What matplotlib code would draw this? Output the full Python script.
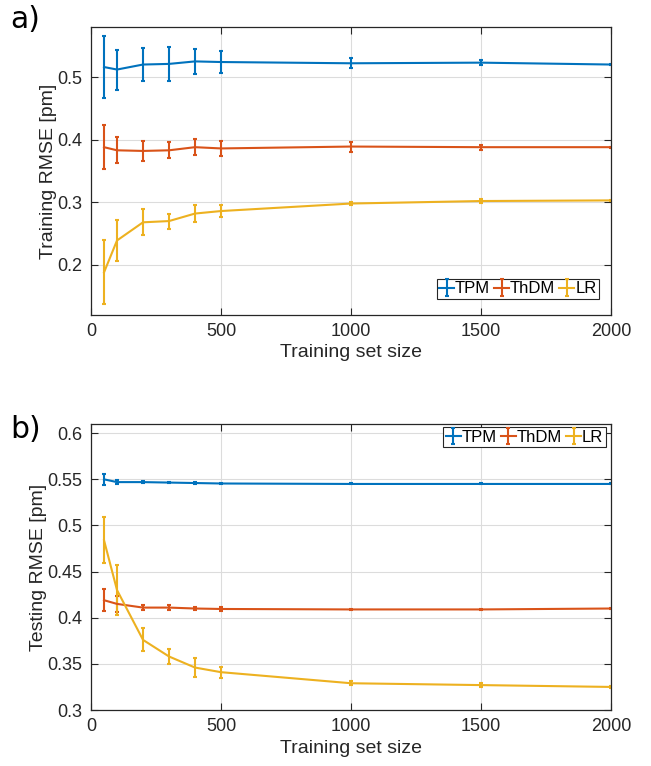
import matplotlib.pyplot as plt
from matplotlib.ticker import MultipleLocator, FuncFormatter

plt.rcParams['font.family'] = ['Liberation Sans', 'DejaVu Sans']

sizes = [50, 100, 200, 300, 400, 500, 1000, 1500, 2000]
names = ['TPM', 'ThDM', 'LR']
colors = ['#0072BD', '#D95319', '#EDB120']

# training RMSE (mean, std) per model
train_mean = {
    'TPM':  [0.516, 0.512, 0.520, 0.521, 0.525, 0.524, 0.522, 0.523, 0.520],
    'ThDM': [0.388, 0.383, 0.382, 0.383, 0.388, 0.386, 0.389, 0.388, 0.388],
    'LR':   [0.188, 0.239, 0.268, 0.270, 0.282, 0.286, 0.298, 0.302, 0.303],
}
train_err = {
    'TPM':  [0.049, 0.032, 0.027, 0.027, 0.020, 0.018, 0.008, 0.004, 0.001],
    'ThDM': [0.035, 0.021, 0.016, 0.013, 0.013, 0.012, 0.008, 0.004, 0.001],
    'LR':   [0.051, 0.032, 0.021, 0.012, 0.013, 0.009, 0.003, 0.003, 0.001],
}

# testing RMSE (mean, std) per model
test_mean = {
    'TPM':  [0.550, 0.547, 0.547, 0.5465, 0.546, 0.5455, 0.545, 0.545, 0.545],
    'ThDM': [0.419, 0.415, 0.411, 0.411, 0.410, 0.4095, 0.409, 0.409, 0.410],
    'LR':   [0.484, 0.430, 0.376, 0.358, 0.346, 0.341, 0.329, 0.327, 0.325],
}
test_err = {
    'TPM':  [0.006, 0.002, 0.001, 0.001, 0.001, 0.0005, 0.0005, 0.0005, 0.0005],
    'ThDM': [0.012, 0.009, 0.003, 0.003, 0.002, 0.002, 0.001, 0.001, 0.0005],
    'LR':   [0.025, 0.027, 0.0125, 0.008, 0.010, 0.006, 0.002, 0.002, 0.001],
}

fig = plt.figure(figsize=(6.51, 7.66), dpi=100)
ax1 = fig.add_axes([0.1398, 0.5888, 0.7988, 0.376])
ax2 = fig.add_axes([0.1398, 0.0731, 0.7988, 0.3734])


def draw(ax, mean, err, ylabel):
    for name, c in zip(names, colors):
        ax.errorbar(sizes, mean[name], yerr=err[name], color=c, lw=1.5,
                    elinewidth=1.5, capsize=1.5, capthick=1.5, label=name)
    ax.set_xlim(0, 2000)
    ax.xaxis.set_major_locator(MultipleLocator(500))
    ax.yaxis.set_major_formatter(FuncFormatter(lambda v, p: '%g' % round(v, 3)))
    ax.grid(True, color='#dcdcdc', lw=0.8)
    ax.set_axisbelow(True)
    ax.tick_params(direction='in', top=True, right=True, labelsize=13,
                   colors='#262626', length=5, width=0.8, pad=6)
    for s in ax.spines.values():
        s.set_color('#262626')
        s.set_linewidth(0.9)
    ax.set_xlabel('Training set size', fontsize=14, color='#262626', labelpad=3)
    ax.set_ylabel(ylabel, fontsize=14, color='#262626', labelpad=0.5)


draw(ax1, train_mean, train_err, 'Training RMSE [pm]')
ax1.set_ylim(0.12, 0.58)
ax1.yaxis.set_major_locator(MultipleLocator(0.1))

draw(ax2, test_mean, test_err, 'Testing RMSE [pm]')
ax2.set_ylim(0.3, 0.61)
ax2.yaxis.set_major_locator(MultipleLocator(0.05))

leg_kw = dict(ncol=3, fontsize=12, handlelength=0.9, handletextpad=0.05,
              columnspacing=0.25, borderpad=0.15, borderaxespad=0,
              fancybox=False, framealpha=1, edgecolor='#262626')
leg1 = ax1.legend(loc='lower right', bbox_to_anchor=(0.977, 0.056), **leg_kw)
leg2 = ax2.legend(loc='upper right', bbox_to_anchor=(0.99, 0.988), **leg_kw)
for leg in (leg1, leg2):
    leg.get_frame().set_linewidth(0.8)

fig.text(0.016, 0.994, 'a)', fontsize=21.5, family='DejaVu Sans', va='top')
fig.text(0.016, 0.458, 'b)', fontsize=21.5, family='DejaVu Sans', va='top')

fig.savefig('out.png', dpi=100)
